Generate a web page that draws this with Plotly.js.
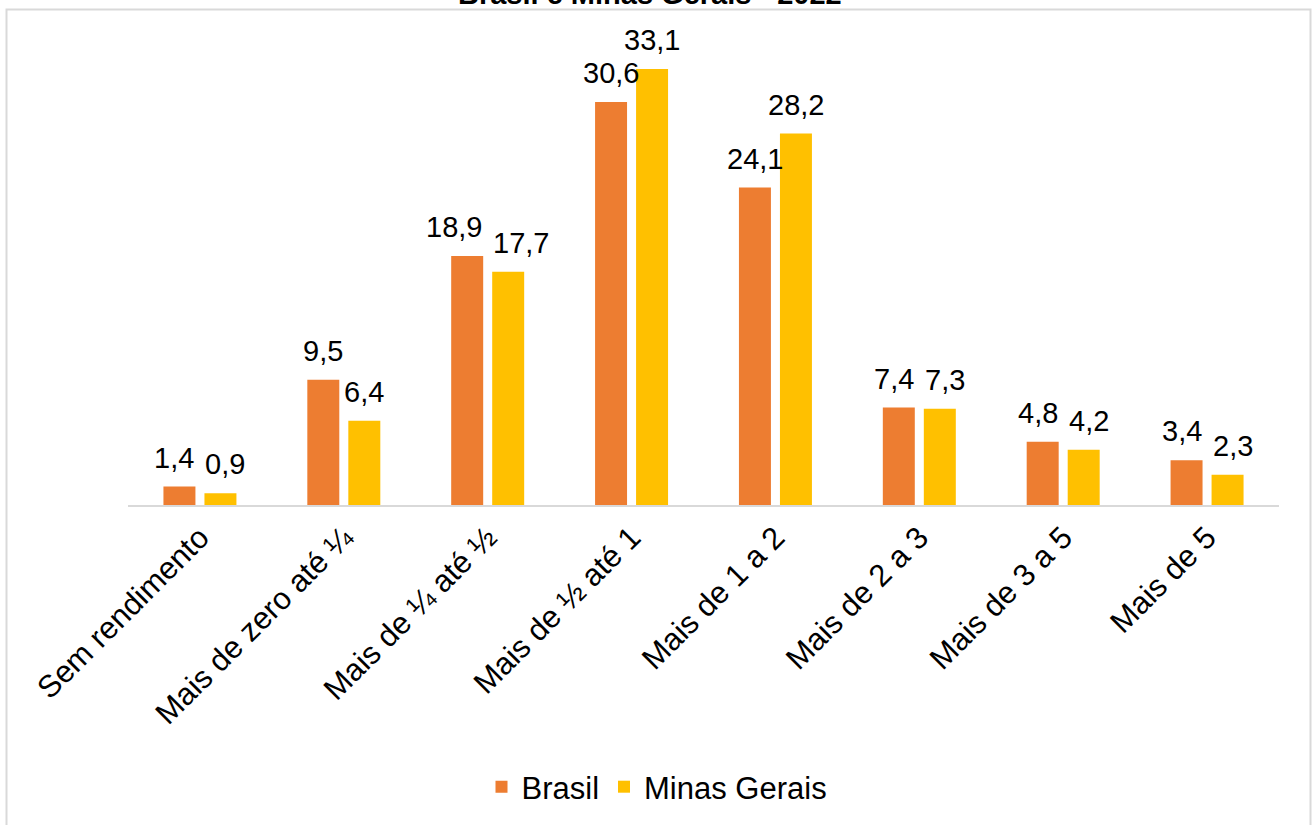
<!DOCTYPE html>
<html>
<head>
<meta charset="utf-8">
<script src="https://cdn.plot.ly/plotly-3.0.1.min.js"></script>
<style>
  html, body { margin: 0; padding: 0; background: #ffffff; }
  #chart { width: 1314px; height: 825px; }
</style>
</head>
<body>
<div id="chart"></div>
<script>
// Income classes (in minimum wages) and share of each population, in %
const categories = [
  "Sem rendimento",
  "Mais de zero até ¼",
  "Mais de ¼ até ½",
  "Mais de ½ até 1",
  "Mais de 1 a 2",
  "Mais de 2 a 3",
  "Mais de 3 a 5",
  "Mais de 5"
];
const brasil = [1.4, 9.5, 18.9, 30.6, 24.1, 7.4, 4.8, 3.4];
const minasGerais = [0.9, 6.4, 17.7, 33.1, 28.2, 7.3, 4.2, 2.3];
const seriesNames = ["Brasil", "Minas Gerais"];
const titleText = "Brasil e Minas Gerais - 2022";

const COLORS = ["#ED7D31", "#FFC000"];
const FONT = "Liberation Sans, Arial, sans-serif";
const LABEL_SIZE = 29;

const W = 1314, H = 825;
const M = { l: 128, r: 35, t: 44, b: 320 };
const plotW = W - M.l - M.r;
const plotH = H - M.t - M.b;
const Y_MAX = 35;
const BARGAP = 0.43;
const BARGROUPGAP = 0.22;
// width of one bar slot inside a category group, and of the bar itself
const slot = plotW / categories.length * (1 - BARGAP) / 2;
const barW = slot * (1 - BARGROUPGAP);
const pxPerUnit = plotH / Y_MAX;

const fmt = v => v.toFixed(1).replace(".", ",");
// rough width of a "d,d" style label in px
const labelWidth = s => LABEL_SIZE * (0.556 * (s.length - 1) + 0.278);

const values = [brasil, minasGerais];
const traces = values.map((vals, i) => ({
  type: "bar",
  name: seriesNames[i],
  x: categories,
  y: vals,
  marker: { color: COLORS[i] },
  hoverinfo: "x+y+name"
}));

// Value labels above each bar; when the two labels of a group would
// collide, they are pushed outward to the outer edges of their bars.
const annotations = [];
categories.forEach((cat, j) => {
  const tb = fmt(brasil[j]), tm = fmt(minasGerais[j]);
  const xClash = (labelWidth(tb) + labelWidth(tm)) / 2 + 4 > slot;
  const yClash = Math.abs(brasil[j] - minasGerais[j]) * pxPerUnit < LABEL_SIZE * 1.1;
  const clash = xClash && yClash;
  [[brasil[j], tb, -1], [minasGerais[j], tm, 1]].forEach(([v, t, side]) => {
    let xanchor = "center", xshift = side * slot / 2;
    if (clash) {
      xanchor = side < 0 ? "right" : "left";
      xshift = side * (slot / 2 - barW / 2) - side;
    }
    annotations.push({
      x: cat, y: v, xref: "x", yref: "y",
      xanchor: xanchor, xshift: xshift,
      yanchor: "bottom", yshift: 11,
      text: t, showarrow: false,
      font: { family: FONT, size: LABEL_SIZE, color: "#000000" }
    });
  });
});

// Title line sitting above the chart frame
annotations.push({
  xref: "paper", yref: "paper",
  x: (650 - M.l) / plotW, y: 1,
  xanchor: "center", yanchor: "bottom", yshift: 32,
  text: "<b>" + titleText + "</b>", showarrow: false,
  font: { family: FONT, size: 29, color: "#000000" }
});

// Light grey chart frame
const px2x = px => (px - M.l) / plotW;
const py2y = py => (H - M.b - py) / plotH;
const shapes = [{
  type: "rect", xref: "paper", yref: "paper",
  x0: px2x(6.5), x1: px2x(1310.5), y0: py2y(840), y1: py2y(9.5),
  line: { color: "#d9d9d9", width: 2 }, fillcolor: "rgba(0,0,0,0)", layer: "below"
}];

const layout = {
  width: W, height: H,
  margin: M,
  paper_bgcolor: "#ffffff",
  plot_bgcolor: "#ffffff",
  barmode: "group",
  bargap: BARGAP,
  bargroupgap: BARGROUPGAP,
  font: { family: FONT, color: "#000000" },
  xaxis: {
    type: "category",
    tickangle: -45,
    tickfont: { family: FONT, size: 31, color: "#000000" },
    showline: true, linecolor: "#d9d9d9", linewidth: 2,
    ticks: "", showgrid: false, zeroline: false
  },
  yaxis: {
    range: [0, Y_MAX], visible: false, showgrid: false, zeroline: false
  },
  showlegend: true,
  legend: {
    orientation: "h",
    xref: "container", yref: "container",
    x: 0.5, xanchor: "center",
    y: 0.046, yanchor: "middle",
    font: { family: FONT, size: 31, color: "#000000" },
    itemwidth: 30
  },
  annotations: annotations,
  shapes: shapes
};

Plotly.newPlot("chart", traces, layout, { displayModeBar: false, responsive: false });
</script>
</body>
</html>
